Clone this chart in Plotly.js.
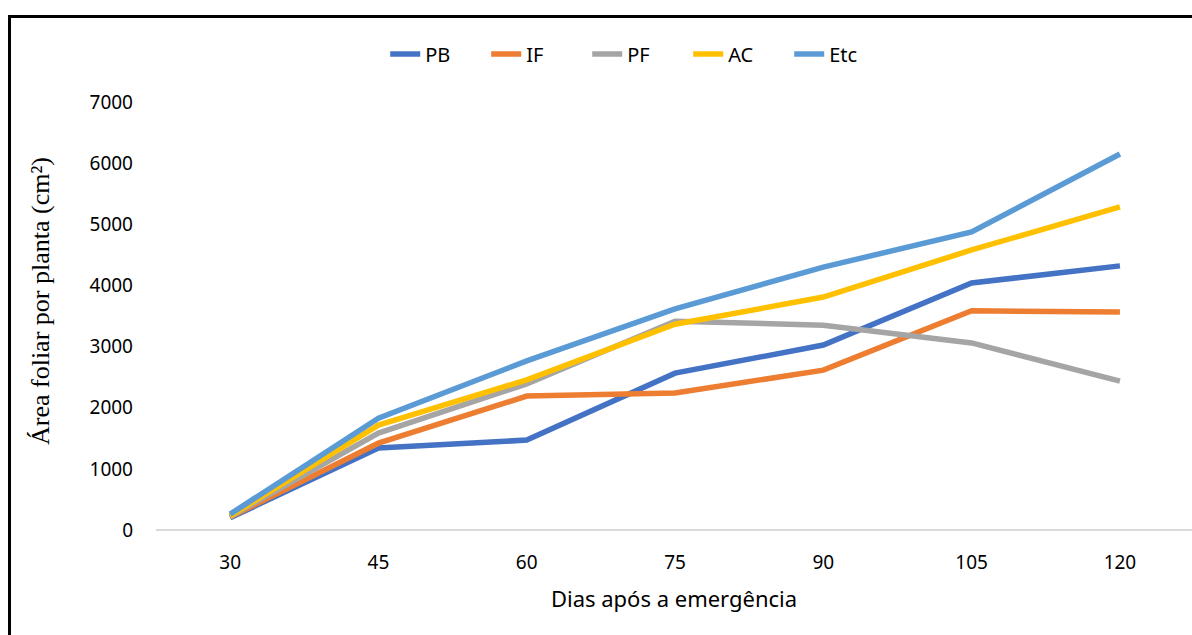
<!DOCTYPE html>
<html>
<head>
<meta charset="utf-8">
<script src="https://cdn.plot.ly/plotly-3.0.1.min.js"></script>
<style>
  html, body { margin: 0; padding: 0; width: 1192px; height: 635px; overflow: hidden; background: #fff; }
  #chart { position: absolute; left: 0; top: 0; width: 1192px; height: 635px; }
  #frame { position: absolute; left: 8px; top: 15px; width: 2000px; height: 2000px;
           border: 3px solid #000; pointer-events: none; box-sizing: border-box; }
</style>
</head>
<body>
<div id="chart"></div>
<div id="frame"></div>
<script>
// Days after emergence (category axis)
const dias = ['30', '45', '60', '75', '90', '105', '120'];

// Leaf area per plant (cm²) for each treatment
const PB  = [200, 1340, 1470, 2565, 3025, 4040, 4320];
const IF  = [210, 1420, 2190, 2240, 2615, 3585, 3565];
const PF  = [220, 1585, 2390, 3415, 3350, 3060, 2435];
const AC  = [230, 1715, 2455, 3365, 3810, 4580, 5285];
const Etc = [260, 1830, 2765, 3615, 4300, 4875, 6150];

const seriesNames  = ['PB', 'IF', 'PF', 'AC', 'Etc'];
const seriesValues = [PB, IF, PF, AC, Etc];
const seriesColors = ['#4472C4', '#ED7D31', '#A5A5A5', '#FFC000', '#5B9BD5'];

const yTitle = 'Área foliar por planta (cm²)';
const xTitle = 'Dias após a emergência';

const traces = seriesNames.map((name, i) => ({
  type: 'scatter',
  mode: 'lines',
  name: name,
  x: dias,
  y: seriesValues[i],
  line: { color: seriesColors[i], width: 5.5, shape: 'linear' },
  hoverinfo: 'x+y+name'
}));

const sansFont = '"Noto Sans", sans-serif';

const layout = {
  width: 1192,
  height: 635,
  margin: { l: 156, r: 0, t: 102, b: 105 },
  paper_bgcolor: '#ffffff',
  plot_bgcolor: '#ffffff',
  showlegend: true,
  legend: {
    orientation: 'h',
    xref: 'container', yref: 'container',
    x: 0.535, xanchor: 'center',
    y: 1 - 54 / 635, yanchor: 'middle',
    font: { family: sansFont, size: 20, color: '#000' },
    traceorder: 'normal',
    entrywidth: 56,
    entrywidthmode: 'pixels'
  },
  xaxis: {
    type: 'category',
    range: [-0.5, 6.486],
    showgrid: false,
    zeroline: false,
    showline: false,
    ticks: '',
    tickfont: { family: sansFont, size: 19, color: '#000' },
    ticklabelstandoff: 19,
    title: { text: xTitle, font: { family: sansFont, size: 22, color: '#000' }, standoff: 17 }
  },
  yaxis: {
    range: [0, 7000],
    tickvals: [0, 1000, 2000, 3000, 4000, 5000, 6000, 7000],
    showgrid: false,
    zeroline: true,
    zerolinecolor: '#D9D9D9',
    zerolinewidth: 2,
    showline: false,
    ticks: '',
    tickfont: { family: sansFont, size: 19, color: '#000' },
    ticklabelstandoff: 22
  },
  annotations: [{
    text: yTitle,
    xref: 'paper', yref: 'paper',
    x: (40 - 156) / 1036, y: (530 - 301) / 428,
    xanchor: 'center', yanchor: 'middle',
    textangle: -90,
    showarrow: false,
    font: { family: '"Liberation Serif", "Times New Roman", serif', size: 26, color: '#000' }
  }]
};

Plotly.newPlot('chart', traces, layout, { displayModeBar: false, staticPlot: true });
</script>
</body>
</html>
